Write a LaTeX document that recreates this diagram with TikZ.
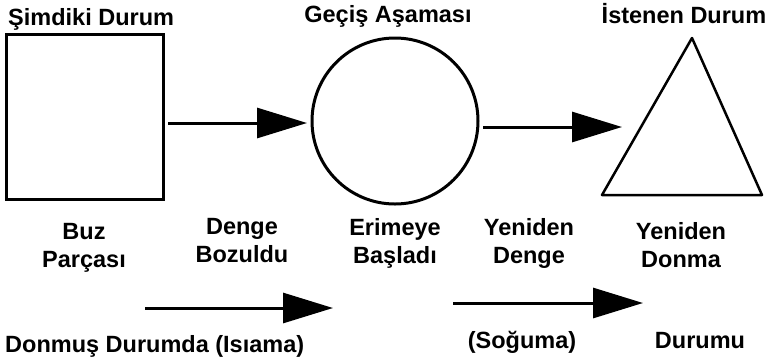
\documentclass[tikz,border=0pt]{standalone}
\usepackage{fontspec}
\setmainfont{Liberation Sans}
\usetikzlibrary{arrows.meta}
\begin{document}
\begin{tikzpicture}[x=1pt,y=-1pt,
  lbl/.style={font=\fontsize{23.5}{28}\selectfont\bfseries, inner sep=0pt, align=center},
  shp/.style={draw, line width=3pt},
  arr/.style={line width=3pt, -{Triangle[length=50pt,width=30pt]}}]
\path[use as bounding box] (0,0) rectangle (766,360);
% shapes
\node[shp, minimum width=157pt, minimum height=165pt, inner sep=0pt] (sq) at (84.5,116.5) {};
\node[shp, circle, minimum size=166pt, inner sep=0pt] (ci) at (395,121) {};
\coordinate (ta) at (692,38);
\coordinate (tl) at (602,195);
\coordinate (tr) at (762,195);
\draw[line width=2.5pt, line join=round] (ta) -- (tl) -- (tr) -- cycle;
% arrows
\coordinate (a1s) at (168,123); \coordinate (a1e) at (307,123);
\coordinate (a2s) at (483,127); \coordinate (a2e) at (622,127);
\coordinate (a3s) at (145,308); \coordinate (a3e) at (333,308);
\coordinate (a4s) at (453,303); \coordinate (a4e) at (643,303);
\draw[arr] (a1s) -- (a1e);
\draw[arr] (a2s) -- (a2e);
\draw[arr] (a3s) -- (a3e);
\draw[arr] (a4s) -- (a4e);
% titles
\node[lbl, anchor=base west] (t1) at (8,25) {Şimdiki Durum};
\node[lbl, anchor=base] (t2) at (388,22) {Geçiş Aşaması};
\node[lbl, anchor=base] (t3) at (684,23) {İstenen Durum};
% labels
\node[lbl, anchor=north] (l1) at (84,223) {Buz\\Parçası};
\node[lbl, anchor=north] (l2) at (242,218) {Denge\\Bozuldu};
\node[lbl, anchor=north] (l3) at (395,218) {Erimeye\\Başladı};
\node[lbl, anchor=north] (l4) at (529,218) {Yeniden\\Denge};
\node[lbl, anchor=north] (l5) at (681,222) {Yeniden\\Donma};
% bottom
\node[lbl, anchor=base west] (b1) at (5,352) {Donmuş Durumda (Isıama)};
\node[lbl, anchor=base] (b2) at (522,348) {(Soğuma)};
\node[lbl, anchor=base] (b3) at (700,348) {Durumu};
\end{tikzpicture}
\end{document}
